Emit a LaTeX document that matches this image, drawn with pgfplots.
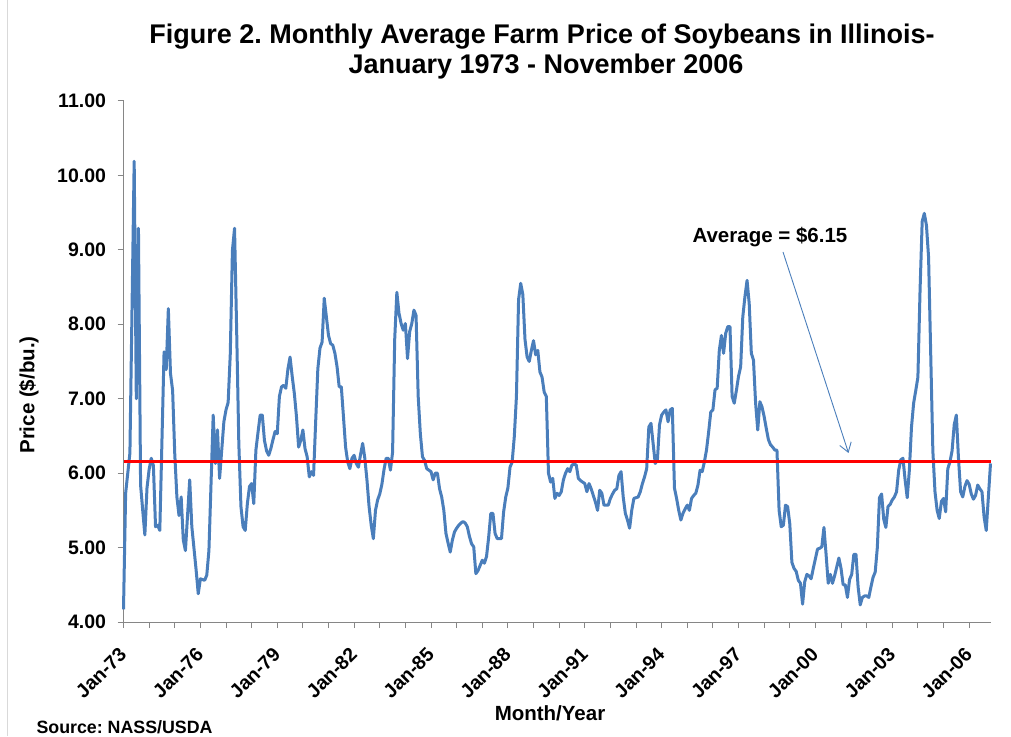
\documentclass[border=0pt]{standalone}
\usepackage{fontspec}
\setmainfont{Liberation Sans}
\usepackage{graphicx}
\usepackage{pgfplots}
\pgfplotsset{compat=1.18}
\usepackage{pgfplotstable}
\usetikzlibrary{arrows.meta}
\definecolor{lineblue}{RGB}{74,126,187}
\definecolor{axisgray}{RGB}{134,134,134}
\definecolor{bordergray}{RGB}{217,217,217}
\frenchspacing
\newcommand{\rl}[1]{\rotatebox{45}{#1}}
\pgfplotstableread{
x y
0 4.17
1 5.73
2 6.00
3 6.27
5 10.19
6 7.00
7 9.29
8 5.84
9 5.50
10 5.17
11 5.80
12 6.05
13 6.20
14 6.10
15 5.28
16 5.30
17 5.23
19 7.63
20 7.39
21 8.21
22 7.34
23 7.11
24 6.26
25 5.68
26 5.43
27 5.68
28 5.10
29 4.96
31 5.91
32 5.28
34 4.70
35 4.38
36 4.58
38 4.56
39 4.63
40 4.96
42 6.78
43 6.13
44 6.58
45 5.93
47 6.69
48 6.85
49 6.95
50 7.60
51 8.99
52 9.29
53 7.90
54 6.40
55 5.55
56 5.28
57 5.23
58 5.59
59 5.82
60 5.86
61 5.59
62 6.31
63 6.55
64 6.78
65 6.78
66 6.44
67 6.30
68 6.24
69 6.33
70 6.45
71 6.56
72 6.53
73 7.03
74 7.16
75 7.18
76 7.14
77 7.40
78 7.56
79 7.30
80 7.07
81 6.76
82 6.35
83 6.44
84 6.58
85 6.33
86 6.22
87 5.95
88 6.02
89 5.97
90 6.70
91 7.40
92 7.68
93 7.76
94 8.35
95 8.10
96 7.85
97 7.74
98 7.72
99 7.61
100 7.43
101 7.16
102 7.16
103 6.76
104 6.35
105 6.15
106 6.06
107 6.20
108 6.24
109 6.13
110 6.08
111 6.25
112 6.40
113 6.20
114 5.91
115 5.55
116 5.30
117 5.12
118 5.50
119 5.64
120 5.72
121 5.85
122 6.05
123 6.20
124 6.20
125 6.04
126 6.28
127 7.80
128 8.43
129 8.15
130 8.01
131 7.92
132 8.01
133 7.54
134 7.90
135 8.01
136 8.19
137 8.12
138 7.03
139 6.53
140 6.22
141 6.17
142 6.06
143 6.04
144 6.02
145 5.91
146 6.00
147 6.00
148 5.79
149 5.68
150 5.50
151 5.19
152 5.06
153 4.94
154 5.10
155 5.21
156 5.26
157 5.30
158 5.33
159 5.35
160 5.33
161 5.28
162 5.15
163 5.05
164 5.01
165 4.65
166 4.69
167 4.76
168 4.83
169 4.79
170 4.88
171 5.14
172 5.46
173 5.46
174 5.19
175 5.12
176 5.12
177 5.12
178 5.48
179 5.68
180 5.80
181 6.08
182 6.15
183 6.49
184 7.03
185 8.33
186 8.55
187 8.40
188 7.80
189 7.56
190 7.50
191 7.65
192 7.78
193 7.59
194 7.65
195 7.36
196 7.29
197 7.09
198 7.03
199 6.00
200 5.88
201 5.93
202 5.66
203 5.73
204 5.70
205 5.75
206 5.91
207 6.00
208 6.06
209 6.02
210 6.11
211 6.12
212 6.11
213 5.93
214 5.90
215 5.88
216 5.86
217 5.75
218 5.86
219 5.79
220 5.70
221 5.61
222 5.50
223 5.77
224 5.73
225 5.57
226 5.57
227 5.57
228 5.66
229 5.72
230 5.77
231 5.79
232 5.97
233 6.02
234 5.68
235 5.46
236 5.37
237 5.26
238 5.50
239 5.66
240 5.67
241 5.68
242 5.75
243 5.86
244 5.95
245 6.06
246 6.62
247 6.67
248 6.40
249 6.13
250 6.17
251 6.65
252 6.78
253 6.82
254 6.85
255 6.69
256 6.85
257 6.87
258 5.80
259 5.66
260 5.50
261 5.37
262 5.46
263 5.52
264 5.57
265 5.50
266 5.66
267 5.70
268 5.73
269 5.84
270 6.04
271 6.02
272 6.15
273 6.31
274 6.55
275 6.82
276 6.85
277 7.12
278 7.14
279 7.65
280 7.85
281 7.61
282 7.88
283 7.97
284 7.97
285 7.03
286 6.94
287 7.11
288 7.30
289 7.43
290 8.10
291 8.37
292 8.59
293 8.28
294 7.61
295 7.52
296 6.94
297 6.58
298 6.96
299 6.89
300 6.76
301 6.60
302 6.45
303 6.38
304 6.35
305 6.31
306 6.31
307 5.50
308 5.28
309 5.30
310 5.57
311 5.55
312 5.32
313 4.80
314 4.72
315 4.68
316 4.56
317 4.52
318 4.24
319 4.54
320 4.64
321 4.62
322 4.58
323 4.72
324 4.85
325 4.98
326 4.99
327 5.01
328 5.27
329 4.91
330 4.52
331 4.64
332 4.52
333 4.62
334 4.74
335 4.86
336 4.72
337 4.50
338 4.50
339 4.33
340 4.57
341 4.64
342 4.91
343 4.91
344 4.47
345 4.23
346 4.33
347 4.35
348 4.35
349 4.33
350 4.47
351 4.60
352 4.67
353 5.00
354 5.67
355 5.72
356 5.38
357 5.27
358 5.55
359 5.58
360 5.64
361 5.68
362 5.75
363 6.04
364 6.18
365 6.20
366 5.91
367 5.67
368 6.04
369 6.62
370 6.94
371 7.11
372 7.29
373 8.45
374 9.38
375 9.49
376 9.33
377 8.90
378 7.60
379 6.30
380 5.75
381 5.50
382 5.39
383 5.62
384 5.66
385 5.48
386 6.06
387 6.15
388 6.30
389 6.65
390 6.78
391 6.20
392 5.75
393 5.68
394 5.82
395 5.90
396 5.85
397 5.72
398 5.65
399 5.70
400 5.84
401 5.79
402 5.75
403 5.41
404 5.23
405 5.68
406 6.13
}\soydata
\begin{document}
\begin{tikzpicture}[x=1pt,y=1pt]
\path[use as bounding box] (0,0) rectangle (1011,736);
\draw[bordergray, line width=1pt] (7,0) -- (7,736);
\begin{axis}[
  at={(123.5pt,114pt)}, anchor=south west,
  scale only axis, width=867pt, height=521pt,
  xmin=0, xmax=406, ymin=4, ymax=11,
  axis x line*=bottom, axis y line*=left,
  axis line style={draw=axisgray, line width=1pt},
  tick align=outside,
  major tick length=6pt, minor tick length=6pt,
  tick style={draw=axisgray, line width=1pt},
  xtick={0,36,...,396},
  minor x tick num=2,
  xticklabels={\rl{Jan-73},\rl{Jan-76},\rl{Jan-79},\rl{Jan-82},\rl{Jan-85},\rl{Jan-88},\rl{Jan-91},\rl{Jan-94},\rl{Jan-97},\rl{Jan-00},\rl{Jan-03},\rl{Jan-06}},
  ytick={4,5,...,11},
  /pgf/number format/assume math mode=true,
  yticklabel={\pgfmathprintnumber[fixed,fixed zerofill,precision=2]{\tick}},
  every tick label/.append style={font=\bfseries\fontsize{19.5}{20}\selectfont, text=black},
  xticklabel style={anchor=north east, inner sep=0pt, xshift=4.5pt, yshift=-18pt},
  yticklabel style={anchor=east, xshift=-8pt},
  clip=false,
]
\addplot[lineblue, line width=3pt, line join=round] table[x=x,y=y] {\soydata};
\addplot[red, line width=3pt] coordinates {(0,6.15) (406,6.15)};
\end{axis}
\draw[lineblue, line width=0.9pt, -{Straight Barb[length=9pt,width=12pt]}] (783,484) -- (848.5,283);
\node[font=\bfseries\fontsize{20.5}{22}\selectfont, anchor=west] at (689,499) {Average = \$6.15};
\node[font=\bfseries\fontsize{27}{30}\selectfont] at (542,699) {Figure 2. Monthly Average Farm Price of Soybeans in Illinois-};
\node[font=\bfseries\fontsize{27}{30}\selectfont] at (546,669) {January 1973 - November 2006};
\node[font=\bfseries\fontsize{20.5}{22}\selectfont, rotate=90] at (29,341) {Price (\$/bu.)};
\node[font=\bfseries\fontsize{20.5}{22}\selectfont] at (550,23) {Month/Year};
\node[font=\bfseries\fontsize{17.8}{19}\selectfont, anchor=west] at (33,9) {Source: NASS/USDA};
\end{tikzpicture}
\end{document}
